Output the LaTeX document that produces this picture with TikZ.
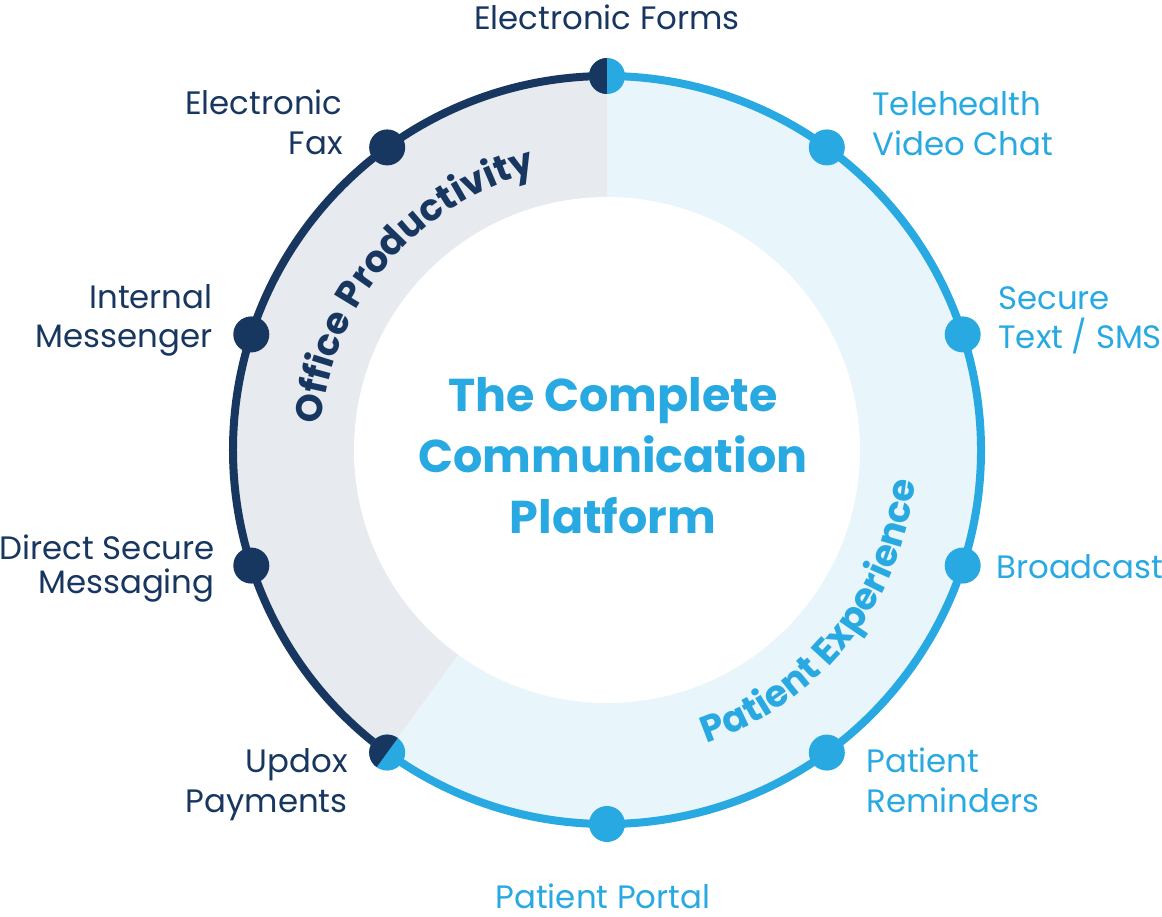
\documentclass[tikz,border=0pt]{standalone}
\usepackage{fontspec}
\setmainfont{Poppins}
\usetikzlibrary{decorations.text}
\definecolor{navy}{RGB}{23,54,96}
\definecolor{sky}{RGB}{41,169,225}
\definecolor{greyfill}{RGB}{231,234,239}
\definecolor{skyfill}{RGB}{232,245,251}
\newcommand{\lblfont}{\fontsize{16.2}{20}\selectfont}
\newcommand{\curvefont}{\fontsize{18.5}{20}\selectfont\bfseries}
\tikzset{
  lbl/.style={font=\lblfont, inner sep=0pt},
  lblnavy/.style={lbl, text=navy},
  lblsky/.style={lbl, text=sky},
  ringnavy/.style={draw=navy, line width=4pt},
  ringsky/.style={draw=sky, line width=4pt},
  dotnavy/.style={circle, fill=navy, minimum size=18pt, inner sep=0pt},
  dotsky/.style={circle, fill=sky, minimum size=18pt, inner sep=0pt},
}
\begin{document}
\begin{tikzpicture}[x=0.5pt,y=0.5pt]
\useasboundingbox (-607,-466) rectangle (555,450);
% sectors
\fill[greyfill] (0,0) -- (90:374) arc[start angle=90, end angle=234, radius=374] -- cycle;
\fill[skyfill] (0,0) -- (234:374) arc[start angle=234, end angle=450, radius=374] -- cycle;
\fill[white] (0,0) circle[radius=253];
% ring
\draw[ringnavy] (90:374) arc[start angle=90, end angle=234, radius=374];
\draw[ringsky] (234:374) arc[start angle=234, end angle=450, radius=374];
% dots
\node[dotsky] (d0) at (90:374) {};
\fill[navy] (d0.center) ++(90:18) arc[start angle=90, end angle=270, radius=18] -- cycle;
\node[dotsky] (d1) at (54:374) {};
\node[dotsky] (d2) at (18:374) {};
\node[dotsky] (d3) at (-18:374) {};
\node[dotsky] (d4) at (-54:374) {};
\node[dotsky] (d5) at (-90:374) {};
\node[dotsky] (d6) at (-126:374) {};
\fill[navy] (d6.center) ++(54:18) arc[start angle=54, end angle=234, radius=18] -- cycle;
\node[dotnavy] (d7) at (198:374) {};
\node[dotnavy] (d8) at (162:374) {};
\node[dotnavy] (d9) at (126:374) {};
% labels (base anchor = baseline of last line)
\node[lblnavy, anchor=base] (l0) at (0,420) {Electronic Forms};
\node[lblsky, anchor=base west, align=left] (l1) at (265,294) {Telehealth\\Video Chat};
\node[lblsky, anchor=base west, align=left] (l2) at (391,101) {Secure\\Text / SMS};
\node[lblsky, anchor=base west] (l3) at (389,-128) {Broadcast};
\node[lblsky, anchor=base west, align=left] (l4) at (259,-362) {Patient\\Reminders};
\node[lblsky, anchor=base] (l5) at (-4,-458) {Patient Portal};
\node[lblnavy, anchor=base east, align=right] (l6) at (-259,-362) {Updox\\Payments};
\node[lblnavy, anchor=base east, align=right, font=\fontsize{16.2}{17}\selectfont] (l7) at (-392,-143) {Direct Secure\\Messaging};
\node[lblnavy, anchor=base east, align=right] (l8) at (-394,102) {Internal\\Messenger};
\node[lblnavy, anchor=base east, align=right] (l9) at (-264,295) {Electronic\\Fax};
% title
\node[font=\fontsize{23}{30.5}\selectfont\bfseries, text=sky, align=center, anchor=base, inner sep=0pt] (title) at (6,-83) {The Complete\\Communication\\Platform};
% curved texts
\path[decorate, decoration={text along path, text align=center,
  text={|\curvefont\color{navy}|Office Productivity}}]
  (189.6:287) arc[start angle=189.6, end angle=89.6, radius=287];
\path[decorate, decoration={text along path, text align=center,
  text={|\curvefont\color{sky}|Patient Experience}}]
  (-88.5:310) arc[start angle=-88.5, end angle=11.5, radius=310];
\end{tikzpicture}
\end{document}
